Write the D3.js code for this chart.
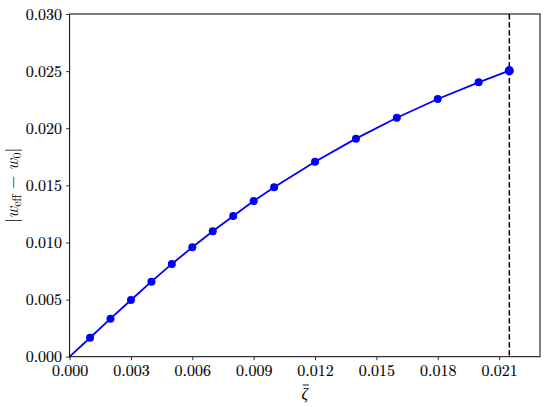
<!DOCTYPE html>
<html>
<head>
<meta charset="utf-8">
<script src="https://cdn.jsdelivr.net/npm/d3@7"></script>
<style>
  html, body { margin: 0; padding: 0; background: #fff; }
  svg { display: block; }
</style>
</head>
<body>
<svg id="chart" width="550" height="407"></svg>
<script>
const zetaValues = [0, 0.001, 0.002, 0.003, 0.004, 0.005, 0.006, 0.007, 0.008, 0.009, 0.010, 0.012, 0.014, 0.016, 0.018, 0.020, 0.0215];
const deltaW = [0, 0.00166, 0.00333, 0.00496, 0.00657, 0.00812, 0.00958, 0.01098, 0.01232, 0.01363, 0.01484, 0.01706, 0.01909, 0.02092, 0.02256, 0.02402, 0.02504];
const xTicks = [0, 0.003, 0.006, 0.009, 0.012, 0.015, 0.018, 0.021];
const yTicks = [0, 0.005, 0.010, 0.015, 0.020, 0.025, 0.030];
const criticalZeta = 0.0215;

const FONT = "Latin Modern Roman";
const mLeft = 69.6, mRight = 540, mTop = 14, mBottom = 356.7;
const svg = d3.select("#chart");
const x = d3.scaleLinear().domain([0, 0.023]).range([mLeft, mRight]);
const y = d3.scaleLinear().domain([0, 0.030]).range([mBottom, mTop]);

// axes
const xAxis = d3.axisBottom(x).tickValues(xTicks).tickFormat(d3.format(".3f")).tickSize(3.5).tickPadding(4.5);
const yAxis = d3.axisLeft(y).tickValues(yTicks).tickFormat(d3.format(".3f")).tickSize(3.5).tickPadding(4);

const gx = svg.append("g").attr("transform", `translate(0,${mBottom})`).call(xAxis);
const gy = svg.append("g").attr("transform", `translate(${mLeft},0)`).call(yAxis);
[gx, gy].forEach(g => {
  g.attr("font-family", FONT);
  g.select(".domain").remove();
  g.selectAll(".tick line").attr("stroke", "#000").attr("stroke-width", 0.8);
  g.selectAll(".tick text").attr("font-size", 16).attr("fill", "#000")
    .attr("font-family", FONT).style("font-family", FONT)
    .attr("stroke", "#000").attr("stroke-width", 0.15);
});

// dashed vertical line
svg.append("line")
  .attr("x1", x(criticalZeta)).attr("x2", x(criticalZeta))
  .attr("y1", mTop).attr("y2", mBottom)
  .attr("stroke", "#000").attr("stroke-width", 1.5)
  .attr("stroke-dasharray", "5.5,2.5");

// data line
const data = zetaValues.map((z, i) => ({ z, w: deltaW[i] }));
svg.append("path")
  .datum(data)
  .attr("fill", "none")
  .attr("stroke", "#0000ff")
  .attr("stroke-width", 1.8)
  .attr("d", d3.line().x(d => x(d.z)).y(d => y(d.w)));

svg.selectAll("circle.pt")
  .data(data.slice(1))
  .enter().append("circle")
  .attr("class", "pt")
  .attr("cx", d => x(d.z)).attr("cy", d => y(d.w))
  .attr("r", (d, i, arr) => i === arr.length - 1 ? 4.6 : 4)
  .attr("fill", "#0000ff");

// frame
svg.append("rect")
  .attr("x", mLeft).attr("y", mTop)
  .attr("width", mRight - mLeft).attr("height", mBottom - mTop)
  .attr("fill", "none").attr("stroke", "#000").attr("stroke-width", 1);

// x label: zeta with bar
const cx = (mLeft + mRight) / 2;
svg.append("text")
  .attr("x", cx).attr("y", 399)
  .attr("text-anchor", "middle").attr("font-size", 16).attr("font-style", "italic")
  .attr("font-family", FONT).style("font-family", FONT)
  .text("ζ");
svg.append("line")
  .attr("x1", cx - 2).attr("x2", cx + 4)
  .attr("y1", 385).attr("y2", 385)
  .attr("stroke", "#000").attr("stroke-width", 0.9);

// y label
const yl = svg.append("text")
  .attr("transform", `translate(18,${(mTop + mBottom) / 2}) rotate(-90)`)
  .attr("text-anchor", "middle").attr("font-size", 17)
  .attr("font-family", FONT).style("font-family", FONT);
yl.append("tspan").text("|");
yl.append("tspan").attr("font-style", "italic").text("w");
yl.append("tspan").attr("font-size", 12).attr("dy", 3).text("eff");
yl.append("tspan").attr("dy", -3).text(" − ");
yl.append("tspan").attr("font-style", "italic").text("w");
yl.append("tspan").attr("font-size", 12).attr("dy", 3).text("0");
yl.append("tspan").attr("dy", -3).text("|");
</script>
</body>
</html>
